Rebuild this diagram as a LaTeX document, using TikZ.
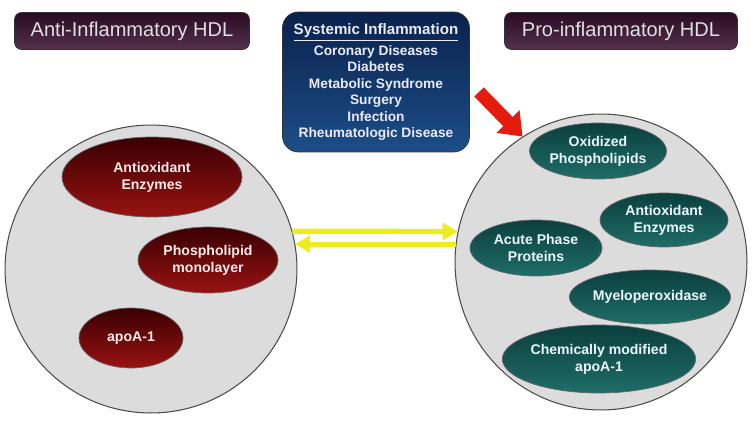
\documentclass[tikz,border=0pt]{standalone}
\usepackage{fontspec}
\setmainfont{Liberation Sans}
\usetikzlibrary{shapes.geometric,arrows.meta}
\definecolor{plumtop}{HTML}{2A0C22}
\definecolor{plumbot}{HTML}{54304C}
\definecolor{navytop}{HTML}{0A214C}
\definecolor{navybot}{HTML}{1D4E88}
\definecolor{marontop}{HTML}{3A0003}
\definecolor{maronbot}{HTML}{991212}
\definecolor{tealtop}{HTML}{0B3F3D}
\definecolor{tealbot}{HTML}{1F6D68}
\definecolor{hdlgray}{HTML}{DCDCDC}
\definecolor{arryellow}{HTML}{EDED1E}
\definecolor{arrred}{HTML}{E41B0F}
\begin{document}
\begin{tikzpicture}[x=0.02cm,y=-0.02cm,
    titlebox/.style={draw=black!80, rounded corners=4pt, top color=plumtop, bottom color=plumbot,
      text=white!88!black, font=\fontsize{11.4}{13}\selectfont, minimum width=4.7cm,
      minimum height=0.74cm, inner sep=0pt},
    hdl/.style={ellipse, draw=black!70, fill=hdlgray, inner sep=0pt, line width=0.6pt},
    blob/.style={ellipse, inner sep=0pt, align=center, font=\bfseries\fontsize{8}{9.6}\selectfont},
    redblob/.style={blob, draw=black!60, top color=marontop, bottom color=maronbot, text=red!8!white},
    tealblob/.style={blob, draw=black!60, top color=tealtop, bottom color=tealbot, text=white!92!cyan},
    yarrow/.style={arryellow, line width=3pt, -{Triangle[length=0.3cm,width=0.34cm]}}
  ]
  \useasboundingbox (0,0) rectangle (754,426);

  % titles
  \node[titlebox] (antit) at (132,31) {Anti-Inflammatory HDL};
  \node[titlebox, minimum width=4.66cm] (protit) at (621,31) {Pro-inflammatory HDL};

  % systemic inflammation box
  \node[draw=black!80, rounded corners=9pt, top color=navytop, bottom color=navybot,
    text=white!92!blue, minimum width=3.74cm, minimum height=2.8cm, inner sep=0pt, align=center,
    font=\bfseries\fontsize{7.8}{9.3}\selectfont] (sysbox) at (376,82)
    {{\fontsize{8.6}{9.3}\selectfont\underline{Systemic Inflammation}}\\[1.5pt] Coronary Diseases\\ Diabetes\\
     Metabolic Syndrome\\ Surgery\\ Infection\\ Rheumatologic Disease};

  % the two particles
  \node[hdl, minimum width=5.84cm, minimum height=5.76cm] (lc) at (151,269) {};
  \node[hdl, minimum width=5.84cm, minimum height=5.92cm] (rc) at (601,262) {};

  \node[redblob, minimum width=3.6cm, minimum height=1.6cm] (lae) at (152,177) {Antioxidant\\Enzymes};
  \node[redblob, minimum width=2.8cm, minimum height=1.32cm] (lpm) at (208,260) {Phospholipid\\monolayer};
  \node[redblob, minimum width=2.08cm, minimum height=1.2cm] (lapo) at (131,338) {apoA-1};

  \node[tealblob, minimum width=2.32cm, minimum height=1.12cm] (rox) at (598,151) {Oxidized\\Phospholipids};
  \node[tealblob, minimum width=2.56cm, minimum height=1.08cm] (rae) at (664,220) {Antioxidant\\Enzymes};
  \node[tealblob, minimum width=2.64cm, minimum height=1.12cm] (rap) at (536,248) {Acute Phase\\Proteins};
  \node[tealblob, minimum width=2.48cm, minimum height=1.08cm] (rmpo) at (650,297) {Myeloperoxidase};
  \node[tealblob, minimum width=3.44cm, minimum height=1.36cm] (rcm) at (599,359) {Chemically modified\\apoA-1};

  % arrows
  \coordinate (redstart) at (479,92);
  \draw[arrred, line width=7.5pt, -{Triangle[length=0.42cm,width=0.62cm]}] (redstart) -- (rc.122);
  \draw[yarrow] (lc.15) -- (rc.168);
  \draw[yarrow] (rc.173) -- (rc.173 -| lc.10);
\end{tikzpicture}
\end{document}
